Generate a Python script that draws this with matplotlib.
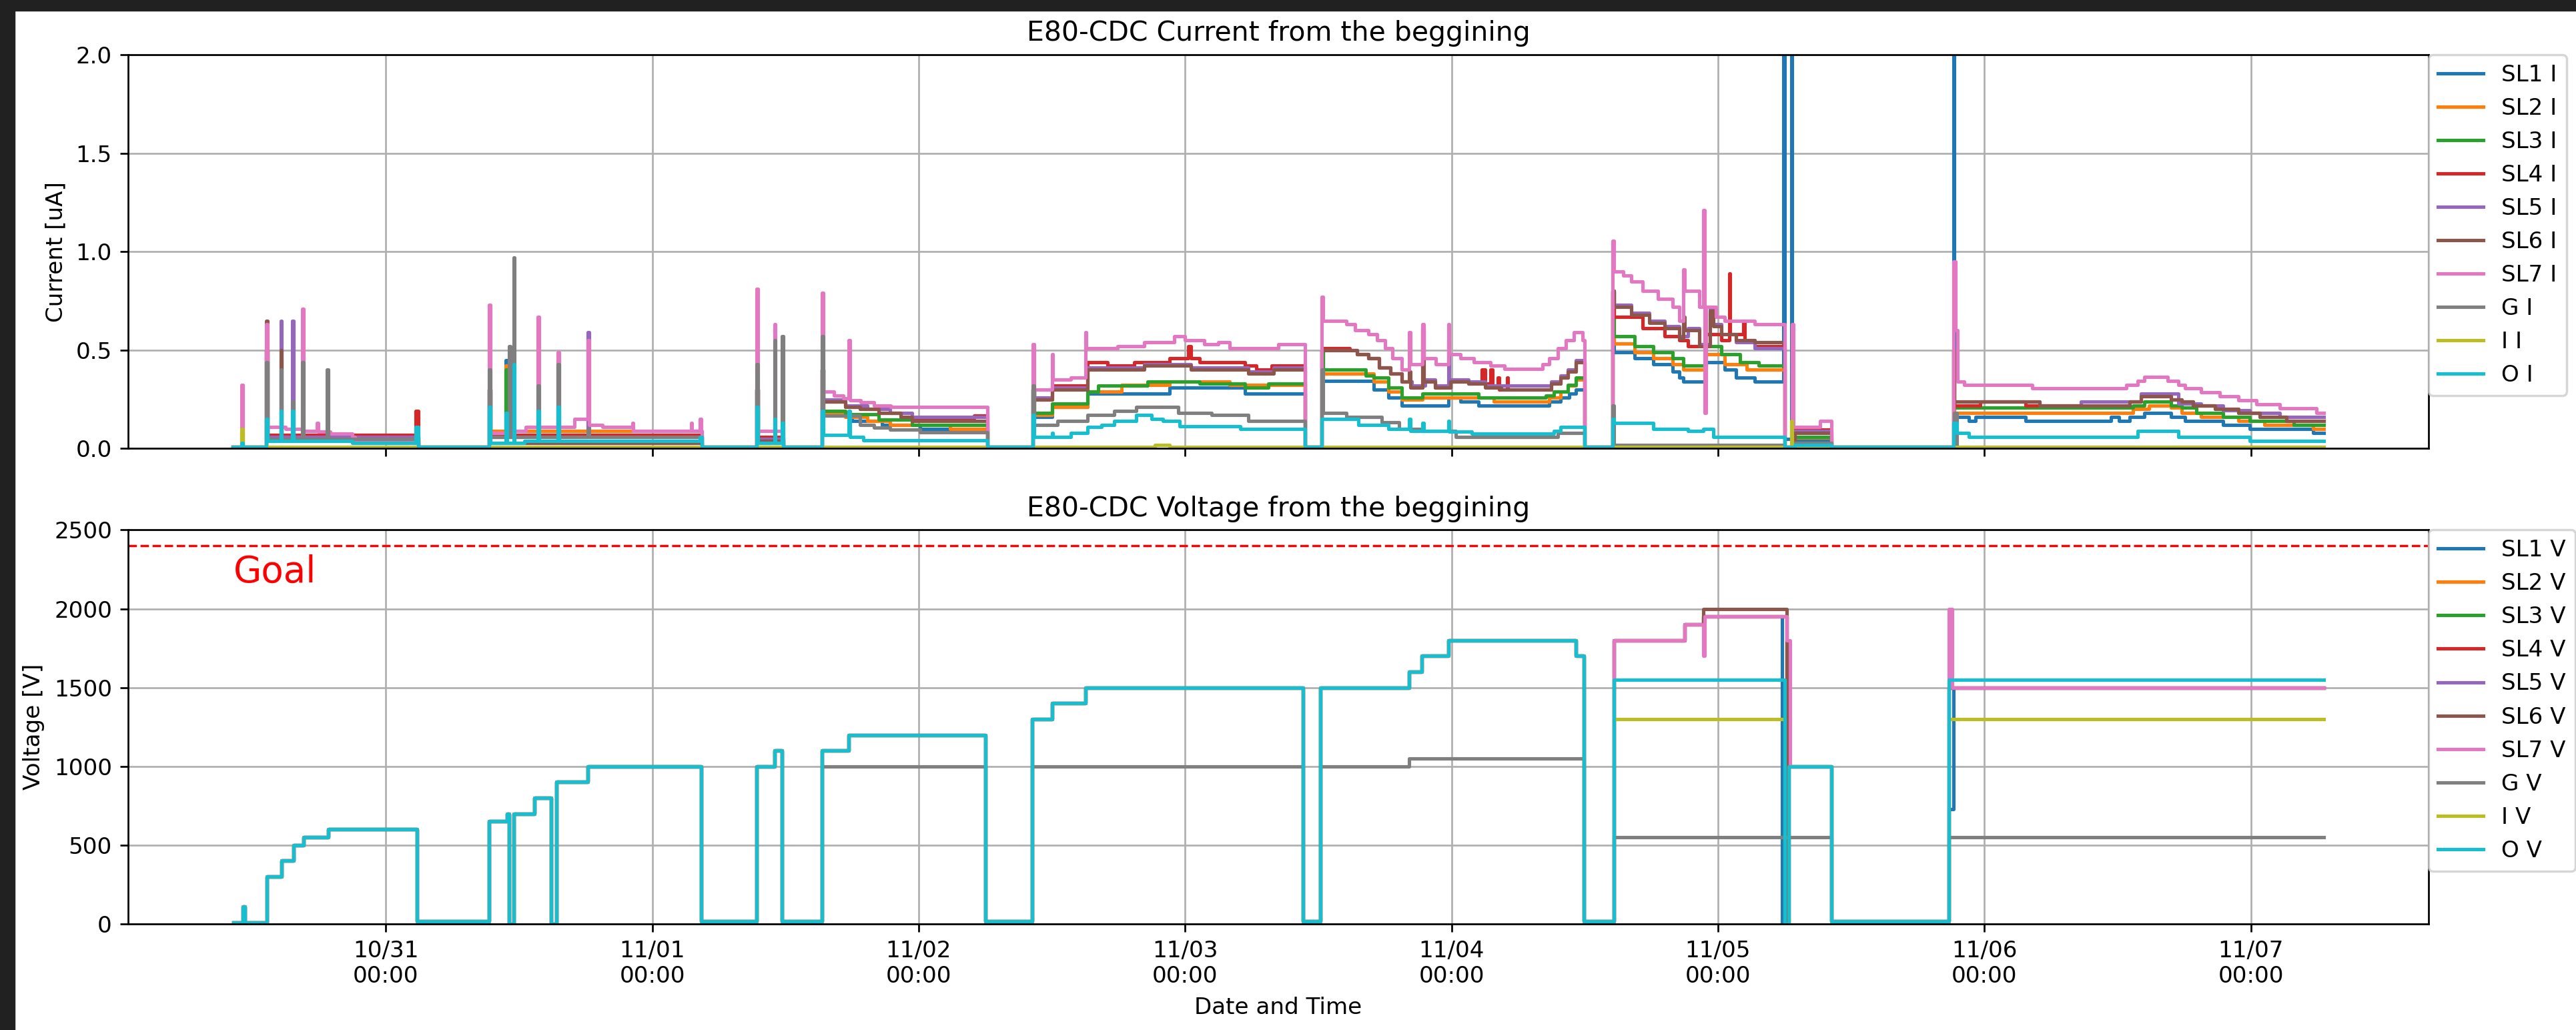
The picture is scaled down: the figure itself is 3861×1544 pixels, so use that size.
import pandas as pd
import matplotlib
matplotlib.use('Agg')
import matplotlib.pyplot as plt
import matplotlib.dates as mdates
from matplotlib.patches import Rectangle

T0 = pd.Timestamp('2023-10-31 00:00')

# ---- current readings: (hours after 10/31 00:00, current in uA) ----
sl1_i = [(-13.8, .01), (-10.75, .5), (-10.65, .06), (-9.47, .45), (-9.37, .06), (2.9, .01), (9.3, .3), (9.4, .07),
         (10.8, .45), (10.9, .07), (28.5, .01), (33.4, .3), (33.5, .05), (35.8, .01), (39.3, .4), (39.4, .167),
         (42.0, .14), (44.7, .12), (48.1, .10), (54.2, .01), (58.3, .3), (58.4, .16), (60.0, .21), (63.2, .28),
         (70.6, .31), (77.4, .28), (82.8, .01), (84.3, .5), (84.4, .345), (89.0, .30), (90.3, .26), (91.5, .22),
         (95.7, .26), (96.8, .24), (98.4, .22), (104.8, .24), (105.8, .26), (106.6, .28), (107.2, .30), (108.0, .01),
         (110.5, .8), (110.6, .49), (112.5, .46), (114.2, .43), (115.9, .39), (116.5, .36), (116.9, .34),
         (118.9, .44), (120.6, .40), (121.6, .36), (123.3, .34), (125.9, 3.0), (126.0, .05), (126.6, 3.0),
         (126.7, .04), (130.2, .01), (141.2, 3.0), (141.3, .16), (142.6, .14), (143.2, .16), (147.7, .14),
         (155.4, .16), (156.1, .14), (157.1, .16), (158.4, .18), (160.8, .16), (162.1, .14), (165.5, .12),
         (167.9, .10), (173.6, .08), (174.6, .08)]
sl2_i = [(-13.8, .01), (-13.0, .08), (-12.9, .01), (-10.75, .5), (-10.65, .07), (2.9, .01), (9.3, .3), (9.4, .09),
         (10.8, .42), (10.9, .09), (28.5, .01), (33.4, .3), (33.5, .05), (35.8, .01), (39.3, .4), (39.4, .18),
         (41.4, .16), (43.4, .14), (45.4, .12), (50.8, .10), (54.2, .01), (58.3, .3), (58.4, .17), (60.0, .21),
         (63.2, .29), (66.3, .325), (70.6, .34), (76.0, .325), (82.8, .01), (84.3, .5), (84.4, .38), (89.0, .34),
         (90.3, .29), (91.5, .25), (93.4, .26), (99.8, .24), (104.8, .26), (105.8, .29), (106.5, .32), (107.2, .35),
         (108.0, .01), (110.5, .8), (110.6, .535), (112.5, .49), (114.2, .46), (115.9, .43), (116.9, .40),
         (118.9, .48), (120.6, .43), (122.6, .40), (126.0, .01), (126.9, .055), (130.2, .01), (141.2, .5),
         (141.3, .18), (157.4, .20), (158.8, .22), (160.8, .207), (161.8, .18), (163.5, .16), (166.9, .14),
         (169.2, .12), (173.6, .10), (174.6, .10)]
sl3_i = [(-13.8, .01), (-10.75, .5), (-10.65, .06), (2.9, .01), (9.3, .3), (9.4, .06), (10.8, .40), (10.9, .06),
         (28.5, .01), (33.4, .3), (33.5, .05), (35.8, .01), (39.3, .4), (39.4, .19), (41.4, .174), (44.4, .147),
         (47.4, .12), (54.2, .01), (58.3, .3), (58.4, .18), (60.0, .23), (63.2, .29), (64.2, .32), (68.6, .34),
         (73.3, .33), (77.4, .31), (79.5, .33), (82.8, .01), (84.3, .5), (84.4, .40), (88.3, .37), (89.0, .36),
         (90.3, .31), (91.5, .26), (93.4, .28), (96.4, .28), (98.4, .26), (104.5, .27), (105.2, .29), (106.5, .325),
         (107.2, .36), (108.0, .01), (110.5, .8), (110.6, .57), (112.5, .52), (114.2, .49), (115.9, .46),
         (116.9, .42), (118.9, .52), (120.3, .48), (122.0, .44), (123.7, .42), (126.0, .01), (126.9, .06),
         (130.2, .01), (141.2, .5), (141.3, .207), (157.4, .22), (158.4, .24), (160.8, .22), (161.8, .207),
         (163.1, .18), (165.5, .16), (167.9, .14), (171.9, .12), (174.6, .12)]
sl4_i = [(-13.8, .01), (-10.75, .5), (-10.65, .07), (2.7, .19), (2.9, .01), (9.3, .3), (9.4, .07), (28.5, .01),
         (33.4, .3), (33.5, .06), (35.8, .01), (39.3, .4), (39.4, .24), (41.4, .21), (42.7, .20), (44.4, .18),
         (46.4, .16), (47.4, .154), (53.0, .167), (54.2, .01), (58.3, .3), (58.4, .25), (60.0, .32), (63.2, .44),
         (65.0, .42), (67.4, .44), (70.6, .46), (72.3, .52), (72.5, .46), (73.3, .44), (77.4, .42), (78.4, .40),
         (79.8, .42), (82.8, .01), (84.3, .5), (84.4, .51), (86.8, .50), (87.5, .48), (88.5, .46), (89.5, .41),
         (90.5, .38), (91.5, .34), (92.4, .31), (93.4, .60), (93.5, .34), (94.5, .31), (95.9, .34), (97.5, .33),
         (98.7, .40), (99.0, .33), (99.5, .40), (99.7, .31), (100.2, .36), (100.3, .30), (101.0, .36),
         (101.1, .30), (104.5, .30), (105.0, .33), (105.8, .36), (106.5, .39), (107.2, .44), (108.0, .01),
         (110.5, .8), (110.6, .67), (113.2, .61), (115.2, .57), (116.5, .55), (117.3, .52), (118.9, .58),
         (120.3, .55), (121.0, .89), (121.1, .58), (122.3, .65), (122.4, .55), (123.3, .52), (126.0, .01),
         (126.9, .095), (130.2, .01), (141.2, .5), (141.3, .22), (143.6, .24), (147.7, .22), (157.1, .24),
         (158.1, .265), (160.8, .25), (161.8, .24), (162.8, .22), (164.8, .20), (166.9, .18), (168.8, .16),
         (171.2, .14), (174.6, .14)]
sl5_i = [(-13.8, .01), (-10.75, .5), (-10.65, .06), (-9.47, .65), (-9.37, .06), (-8.4, .65), (-8.3, .06), (2.9, .01),
         (9.3, .3), (9.4, .06), (18.2, .59), (18.3, .06), (28.5, .01), (33.4, .3), (33.5, .05), (35.8, .01),
         (39.3, .4), (39.4, .25), (41.4, .22), (43.4, .20), (45.4, .18), (47.4, .16), (54.2, .01), (58.3, .3),
         (58.4, .26), (60.0, .31), (63.2, .41), (68.3, .43), (72.5, .41), (77.7, .39), (80.0, .41), (82.8, .01),
         (84.3, .5), (84.4, .50), (87.5, .48), (88.5, .46), (89.5, .41), (90.5, .38), (91.5, .34), (92.4, .32),
         (93.6, .35), (94.5, .32), (95.7, .55), (95.8, .35), (97.5, .34), (99.0, .32), (104.5, .32), (105.0, .34),
         (105.8, .37), (106.5, .40), (107.2, .45), (108.0, .01), (110.5, .8), (110.6, .73), (112.2, .69),
         (113.8, .65), (115.2, .62), (116.5, .57), (117.3, .61), (118.3, .53), (119.3, .71), (119.6, .63),
         (120.3, .58), (121.6, .54), (123.3, .51), (126.0, .01), (126.9, .09), (130.2, .01), (141.2, .5),
         (141.3, .24), (149.0, .22), (152.7, .24), (157.1, .24), (158.1, .28), (161.5, .23), (163.5, .22),
         (165.5, .195), (167.9, .18), (170.6, .16), (174.6, .16)]
sl6_i = [(-13.8, .01), (-10.75, .65), (-10.65, .04), (-9.47, .50), (-9.37, .04), (2.9, .01), (9.3, .3), (9.4, .03),
         (15.5, .45), (15.6, .03), (28.5, .01), (33.4, .3), (33.5, .04), (35.8, .01), (39.3, .4), (39.4, .24),
         (41.4, .21), (42.7, .20), (44.4, .18), (46.4, .16), (47.4, .14), (54.2, .01), (58.3, .3), (58.4, .25),
         (60.0, .30), (63.2, .40), (68.3, .42), (72.5, .40), (77.7, .38), (80.0, .40), (82.8, .01), (84.3, .5),
         (84.4, .50), (87.5, .48), (88.5, .46), (89.5, .41), (90.5, .38), (91.5, .34), (92.2, .39), (92.3, .31),
         (93.4, .62), (93.5, .34), (94.5, .31), (95.9, .34), (97.5, .33), (99.0, .31), (100.5, .30), (104.5, .30),
         (105.0, .33), (105.8, .36), (106.5, .39), (107.2, .44), (108.0, .01), (110.5, .8), (110.6, .72),
         (112.2, .68), (113.8, .64), (115.2, .61), (116.5, .56), (116.9, .67), (117.0, .60), (118.3, .52),
         (119.3, .70), (119.6, .62), (120.3, .58), (121.6, .55), (123.3, .54), (126.0, .01), (126.9, .08),
         (130.2, .01), (141.2, .5), (141.3, .24), (149.0, .22), (157.1, .24), (158.1, .265), (160.8, .25),
         (161.8, .24), (162.8, .22), (164.8, .20), (166.9, .18), (168.8, .16), (171.2, .14), (174.6, .14)]
sl7_i = [(-13.8, .01), (-13.0, .325), (-12.9, .01), (-10.75, .63), (-10.65, .11), (-9.0, .10), (-7.5, .71),
         (-7.4, .09), (-6.2, .13), (-6.1, .085), (-5.0, .075), (-3.0, .06), (-2.8, .045), (2.9, .01), (9.3, .73),
         (9.4, .08), (11.0, .09), (12.6, .11), (13.7, .67), (13.8, .11), (15.5, .49), (15.6, .11), (17.0, .15),
         (18.2, .55), (18.3, .12), (19.5, .11), (22.2, .13), (22.3, .09), (27.5, .13), (27.6, .09), (28.3, .15),
         (28.4, .09), (28.5, .01), (33.4, .81), (33.5, .09), (35.0, .63), (35.1, .09), (35.8, .01), (39.3, .79),
         (39.4, .29), (40.4, .27), (41.2, .255), (41.7, .55), (41.8, .245), (42.8, .235), (44.0, .22),
         (45.5, .21), (54.2, .01), (58.3, .53), (58.4, .30), (60.0, .48), (60.1, .35), (61.7, .36), (63.0, .59),
         (63.1, .51), (65.9, .52), (68.3, .54), (71.0, .57), (72.0, .55), (73.7, .53), (75.0, .54), (76.0, .51),
         (80.4, .53), (82.8, .01), (84.3, .77), (84.4, .65), (86.5, .63), (87.3, .60), (88.5, .58), (89.3, .55),
         (90.0, .51), (90.7, .46), (91.5, .40), (92.2, .59), (92.3, .43), (93.4, .63), (93.5, .46), (94.6, .43),
         (95.7, .63), (95.8, .48), (96.8, .46), (98.0, .44), (99.5, .42), (100.8, .405), (104.2, .43),
         (104.8, .46), (105.6, .51), (106.3, .55), (107.0, .59), (107.8, .55), (108.0, .01), (110.5, 1.055),
         (110.6, .90), (111.5, .88), (112.2, .85), (113.2, .80), (114.6, .76), (115.9, .72), (116.5, .65),
         (116.9, .91), (117.0, .80), (118.3, .72), (118.7, 1.21), (118.8, .18), (118.9, .72), (119.8, .67),
         (120.6, .65), (123.3, .63), (126.0, .01), (126.7, .63), (126.8, .11), (129.2, .14), (130.2, .01),
         (141.2, .95), (141.4, .60), (141.6, .34), (142.2, .325), (148.3, .305), (156.8, .325), (157.8, .345),
         (158.4, .365), (160.5, .345), (161.5, .325), (162.1, .305), (163.5, .285), (165.2, .265), (166.9, .245),
         (168.5, .225), (170.6, .205), (173.9, .18), (174.6, .18)]
g_i = [(-13.8, .01), (-10.75, .44), (-10.65, .05), (-9.47, .40), (-9.37, .05), (-8.4, .24), (-8.3, .05), (-7.5, .44),
       (-7.4, .05), (-5.3, .40), (-5.2, .05), (2.9, .01), (9.3, .40), (9.4, .06), (11.1, .52), (11.2, .06),
       (11.5, .97), (11.6, .06), (13.7, .32), (13.8, .06), (15.5, .43), (15.6, .06), (18.2, .10), (18.3, .06),
       (28.5, .01), (33.4, .43), (33.5, .03), (35.0, .55), (35.1, .03), (35.7, .57), (35.8, .01), (39.3, .57),
       (39.4, .167), (42.7, .12), (44.0, .108), (45.4, .095), (48.1, .082), (54.2, .01), (58.3, .32), (58.4, .12),
       (60.5, .14), (63.2, .17), (65.6, .19), (67.6, .21), (71.4, .18), (74.4, .17), (77.7, .14), (82.8, .01),
       (84.3, .4), (84.4, .18), (86.5, .16), (89.7, .135), (91.3, .10), (93.4, .09), (96.4, .06), (105.6, .08),
       (108.0, .01), (110.5, .22), (110.6, .02), (126.0, .01), (126.9, .03), (130.2, .01), (141.3, .18),
       (141.5, .01), (174.6, .01)]
i_i = [(-13.8, .01), (-13.0, .10), (-12.9, .01), (69.3, .02), (70.6, .01), (126.6, .14), (126.7, .01),
       (174.6, .01)]
o_i = [(-13.8, .01), (-13.0, .03), (-12.9, .01), (-10.75, .15), (-10.65, .04), (-9.47, .19), (-9.37, .04),
       (-8.4, .19), (-8.3, .04), (-3.0, .03), (2.7, .11), (2.9, .01), (9.3, .21), (9.4, .03), (10.8, .18),
       (10.9, .03), (11.5, .43), (11.6, .03), (12.5, .04), (13.7, .19), (13.8, .04), (15.5, .21), (15.6, .04),
       (28.3, .06), (28.5, .01), (33.4, .21), (33.5, .03), (35.0, .15), (35.1, .03), (35.7, .13), (35.8, .01),
       (39.3, .19), (39.4, .07), (41.7, .19), (41.8, .06), (43.0, .042), (54.2, .01), (58.3, .17), (58.4, .06),
       (60.0, .08), (60.1, .06), (61.7, .08), (63.2, .11), (64.5, .12), (65.6, .14), (67.6, .17), (69.0, .15),
       (70.0, .14), (71.5, .115), (77.0, .10), (82.8, .01), (84.3, .15), (87.6, .12), (90.3, .10), (92.2, .15),
       (92.3, .09), (93.4, .13), (93.5, .09), (95.7, .14), (95.8, .085), (97.8, .075), (105.2, .09),
       (105.8, .11), (108.0, .01), (110.5, .15), (110.6, .13), (114.2, .10), (117.3, .09), (118.7, .10),
       (119.6, .06), (126.0, .01), (126.9, .02), (130.2, .01), (141.2, .13), (141.5, .08), (142.6, .06),
       (157.8, .09), (161.5, .06), (167.9, .04), (174.6, .04)]

# ---- voltage settings: (hours after 10/31 00:00, volts) ----
v_early = [(-13.7, 10), (-12.9, 110), (-12.7, 10), (-10.7, 300), (-9.4, 400), (-8.3, 500), (-7.4, 550),
           (-5.2, 600), (2.8, 15), (9.3, 650), (10.9, 700), (11.1, 0), (11.5, 700), (13.4, 800), (14.9, 0),
           (15.4, 900), (18.2, 1000), (28.4, 15), (33.4, 1000), (35.0, 1100), (35.7, 15)]
v_mid = [(39.3, 1100), (41.7, 1200), (54.0, 15), (58.2, 1300), (60.0, 1400), (63.0, 1500), (82.6, 15),
         (84.2, 1500), (92.2, 1600), (93.3, 1700), (95.7, 1800), (107.2, 1700), (107.9, 15)]
g_v_mid = [(39.3, 1000), (54.0, 15), (58.2, 1000), (82.6, 15), (84.2, 1000), (92.2, 1050), (107.9, 15)]

sl1_v_tail = [(110.6, 1800), (117.0, 1900), (118.7, 1950), (125.8, 0), (126.3, 1000), (130.2, 15),
              (140.8, 730), (141.2, 1500), (174.6, 1500)]
sl_v_tail = [(110.6, 1800), (117.0, 1900), (118.7, 1950), (126.2, 0), (126.4, 1000), (130.2, 15),
             (140.8, 1500), (174.6, 1500)]
sl6_v_tail = [(110.6, 1800), (117.0, 1900), (118.7, 2000), (126.2, 0), (126.4, 1000), (130.2, 15),
              (140.8, 1500), (174.6, 1500)]
sl7_v_tail = [(110.6, 1800), (117.0, 1900), (118.7, 1700), (118.8, 1950), (126.2, 1800), (126.5, 1000),
              (130.2, 15), (140.8, 2000), (141.1, 1500), (174.6, 1500)]
g_v_tail = [(110.6, 550), (130.2, 15), (140.8, 550), (174.6, 550)]
i_v_tail = [(110.6, 1300), (126.0, 0), (126.4, 1000), (130.2, 15), (140.8, 1300), (174.6, 1300)]
o_v_tail = [(110.6, 1550), (126.0, 0), (126.4, 1000), (130.2, 15), (140.8, 1550), (174.6, 1550)]

goal_v = 2400

names = ['SL1', 'SL2', 'SL3', 'SL4', 'SL5', 'SL6', 'SL7', 'G', 'I', 'O']
currents = [sl1_i, sl2_i, sl3_i, sl4_i, sl5_i, sl6_i, sl7_i, g_i, i_i, o_i]
voltages = [v_early + v_mid + sl1_v_tail,
            v_early + v_mid + sl_v_tail,
            v_early + v_mid + sl_v_tail,
            v_early + v_mid + sl_v_tail,
            v_early + v_mid + sl_v_tail,
            v_early + v_mid + sl6_v_tail,
            v_early + v_mid + sl7_v_tail,
            v_early + g_v_mid + g_v_tail,
            v_early + v_mid + i_v_tail,
            v_early + v_mid + o_v_tail]


def to_series(pairs):
    hours = [p[0] for p in pairs]
    vals = [p[1] for p in pairs]
    return T0 + pd.to_timedelta(hours, unit='h'), vals


fig, (ax1, ax2) = plt.subplots(2, 1, sharex=True, figsize=(3861 / 246, 1544 / 246), dpi=246)
fig.subplots_adjust(left=0.0497, right=0.9428, top=0.9469, bottom=0.103, hspace=0.2066)

for name, data in zip(names, currents):
    t, v = to_series(data)
    ax1.plot(t, v, drawstyle='steps-post', label=name + ' I')
ax1.set_ylim(0, 2)
ax1.set_yticks([0.0, 0.5, 1.0, 1.5, 2.0])
ax1.set_ylabel('Current [uA]')
ax1.set_title('E80-CDC Current from the beggining')
ax1.grid(True)
ax1.legend(loc='upper left', bbox_to_anchor=(1, 1), borderaxespad=0)

for name, data in zip(names, voltages):
    t, v = to_series(data)
    ax2.plot(t, v, drawstyle='steps-post', label=name + ' V')
ax2.axhline(goal_v, color='red', linestyle='--', linewidth=1)
t_first, _ = to_series(v_early[:1])
ax2.text(t_first[0], 2230, 'Goal', color='red', fontsize=16, va='center')
ax2.set_ylim(0, 2500)
ax2.set_ylabel('Voltage [V]')
ax2.set_xlabel('Date and Time')
ax2.set_title('E80-CDC Voltage from the beggining')
ax2.grid(True)
ax2.legend(loc='upper left', bbox_to_anchor=(1, 1), borderaxespad=0)

ax2.xaxis.set_major_locator(mdates.DayLocator())
ax2.xaxis.set_major_formatter(mdates.DateFormatter('%m/%d\n%H:%M'))

# dark frame along the top and left edges
fig.patches.append(Rectangle((0, 1 - 15 / 1544), 1, 15 / 1544, transform=fig.transFigure,
                             color='#212121', zorder=10))
fig.patches.append(Rectangle((0, 0), 21 / 3861, 1, transform=fig.transFigure,
                             color='#212121', zorder=10))

fig.savefig('out.png', dpi=246)
